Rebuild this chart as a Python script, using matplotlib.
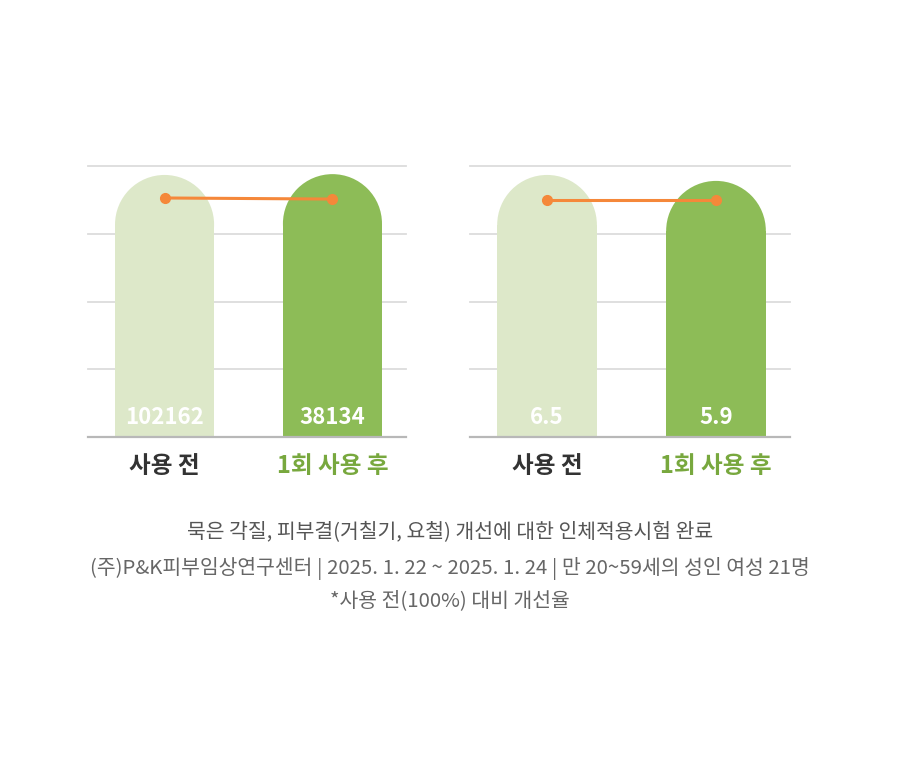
import numpy as np
import matplotlib
matplotlib.use('Agg')
import matplotlib.pyplot as plt
from matplotlib.patches import Ellipse

plt.rcParams['font.family'] = ['Noto Sans CJK KR', 'DejaVu Sans']

categories = ['사용 전', '1회 사용 후']
left_bars = [96.7, 97.0]
right_bars = [96.7, 94.5]
left_line = [88.2, 87.8]
right_line = [87.5, 87.5]
left_labels = ['102162', '38134']
right_labels = ['6.5', '5.9']

footer = ['묵은 각질, 피부결(거칠기, 요철) 개선에 대한 인체적용시험 완료',
          '(주)P&K피부임상연구센터 | 2025. 1. 22 ~ 2025. 1. 24 | 만 20~59세의 성인 여성 21명',
          '*사용 전(100%) 대비 개선율']

bar_colors = ['#dde8c9', '#8dbc57']
label_colors = ['#333333', '#78a83e']
orange = '#f5883a'

fig = plt.figure(figsize=(9, 7.68), dpi=100)


def rounded_bar(ax, x, h, w, color):
    p0 = ax.transData.transform((0, 0))
    p1 = ax.transData.transform((w, 1))
    r = (p1[0] - p0[0]) / 2 / (p1[1] - p0[1])
    ax.bar(x, h - r, w, color=color, lw=0, zorder=2)
    ax.add_patch(Ellipse((x, h - r), w, 2 * r, color=color, lw=0, zorder=2))


def panel(rect, bars, line, labels):
    ax = fig.add_axes(rect)
    ax.set_xlim(-0.456, 1.438)
    ax.set_ylim(0, 100)
    for s in ax.spines.values():
        s.set_visible(False)
    ax.set_yticks([])
    for y in [25, 50, 75, 100]:
        ax.axhline(y, color='#dcdcdc', lw=1.3, zorder=1, clip_on=False)
    ax.axhline(0, color='#b8b8b8', lw=1.6, zorder=3, clip_on=False)
    x = np.arange(len(bars))
    for i in range(len(bars)):
        rounded_bar(ax, x[i], bars[i], 0.59, bar_colors[i])
        ax.text(x[i], 7.2, labels[i], color='white', fontsize=16,
                fontweight='bold', ha='center', va='center', zorder=4)
    ax.plot(x, line, color=orange, lw=2.2, marker='o', markersize=7, zorder=5)
    ax.set_xticks(x)
    ax.set_xticklabels(categories, fontsize=17, fontweight='bold')
    ax.tick_params(axis='x', length=0, pad=12)
    for t, c in zip(ax.get_xticklabels(), label_colors):
        t.set_color(c)
    return ax


panel([88 / 900, 331 / 768, 318 / 900, 271 / 768], left_bars, left_line, left_labels)
panel([470 / 900, 331 / 768, 320 / 900, 271 / 768], right_bars, right_line, right_labels)

fig.text(0.5, 1 - 533 / 768, footer[0], ha='center', va='center',
         fontsize=14.7, color='#555555', fontweight='medium')
fig.text(0.5, 1 - 568 / 768, footer[1], ha='center', va='center',
         fontsize=14.7, color='#666666')
fig.text(0.5, 1 - 601 / 768, footer[2], ha='center', va='center',
         fontsize=14.7, color='#666666')

fig.savefig('out.png', dpi=100)
